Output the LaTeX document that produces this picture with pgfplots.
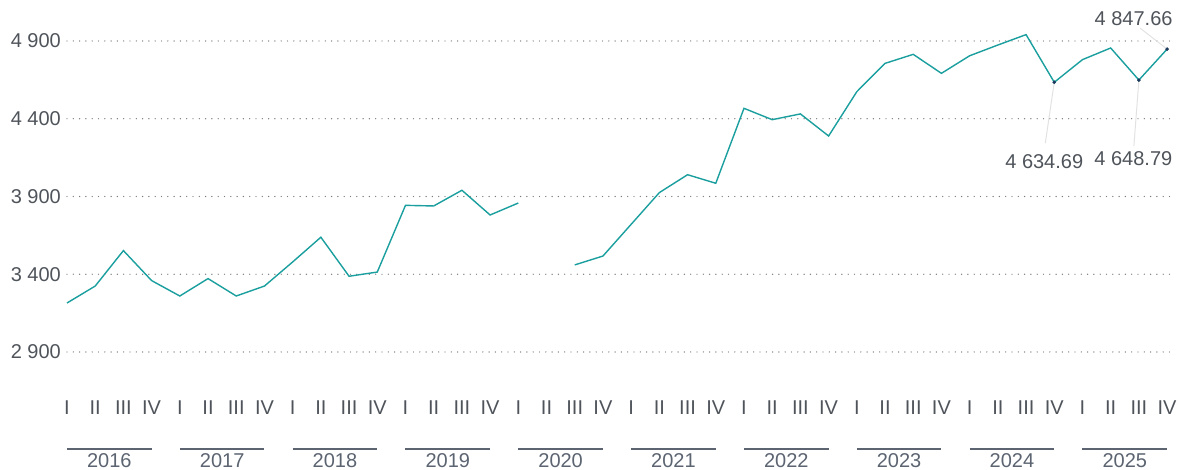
\documentclass[border=0pt]{standalone}
\usepackage{pgfplots}
\pgfplotsset{compat=1.18}
\usepackage{fontspec}
\setmainfont{Liberation Sans}
\definecolor{teal1}{HTML}{1A9E9E}
\definecolor{navy1}{HTML}{1B3A5C}
\definecolor{lab}{HTML}{4F545B}
\definecolor{yr}{HTML}{5B6470}
\definecolor{lead}{HTML}{E2E2E2}
\definecolor{gridc}{HTML}{7A7A7A}
\pgfplotstableread{
x y
0 3215
1 3324
2 3552
3 3359
4 3260
5 3372
6 3260
7 3324
8 3479
9 3638
10 3387
11 3414
12 3843
13 3839
14 3940
15 3781
16 3858
17 nan
18 3460
19 3517
20 3721
21 3925
22 4040
23 3985
24 4467
25 4394
26 4431
27 4289
28 4574
29 4756
30 4814
31 4692
32 4805
33 4874
34 4941
35 4634.69
36 4780
37 4855
38 4648.79
39 4847.66
}\series
\begin{document}
\begin{tikzpicture}
\useasboundingbox (0,0) rectangle (1179pt,470pt);
\begin{axis}[
  scale only axis, width=1108pt, height=370pt,
  at={(67pt,95pt)}, anchor=south west,
  xmin=0, xmax=39.28, ymin=2752, ymax=5131.5,
  clip=false,
  axis line style={draw=none}, major tick length=0pt,
  ytick={2900,3400,3900,4400,4900},
  yticklabels={2 900,3 400,3 900,4 400,4 900},
  ymajorgrids,
  grid style={gridc, line width=1.4pt, line cap=round, dash pattern=on 0pt off 6.3pt},
  xtick={0,...,39},
  xticklabels={I,II,III,IV,I,II,III,IV,I,II,III,IV,I,II,III,IV,I,II,III,IV,I,II,III,IV,I,II,III,IV,I,II,III,IV,I,II,III,IV,I,II,III,IV},
  ticklabel style={font=\fontsize{20}{23}\selectfont, text=lab},
  yticklabel style={anchor=east, inner sep=0pt, xshift=-6pt},
  xticklabel style={anchor=base, inner sep=0pt, yshift=-40pt},
  unbounded coords=jump,
]
\addplot[teal1, line width=1.4pt, mark=none] table[x=x,y=y] {\series};
% leader lines
\draw[lead, line width=1pt] (axis cs:39,4847.66) -- ++(-27pt,21pt);
\draw[lead, line width=1pt] (axis cs:35,4634.69) -- ++(-9pt,-61pt);
\draw[lead, line width=1pt] (axis cs:38,4648.79) -- ++(-5pt,-66pt);
\addplot[only marks, mark=*, mark size=1.6pt, navy1] coordinates {(35,4634.69) (38,4648.79) (39,4847.66)};
\node[font=\fontsize{20}{23}\selectfont, text=lab, inner sep=0pt] at ([shift={(-33.5pt,31pt)}]axis cs:39,4847.66) {4 847.66};
\node[font=\fontsize{20}{23}\selectfont, text=lab, inner sep=0pt] at ([shift={(-10pt,-79pt)}]axis cs:35,4634.69) {4 634.69};
\node[font=\fontsize{20}{23}\selectfont, text=lab, inner sep=0pt] at ([shift={(-5.5pt,-78.5pt)}]axis cs:38,4648.79) {4 648.79};
% year groups
\foreach \s/\yy in {0/2016,4/2017,8/2018,12/2019,16/2020,20/2021,24/2022,28/2023,32/2024,36/2025}{
  \edef\tmp{\noexpand\draw[yr, line width=1.3pt] ([yshift=-74pt]axis cs:\s,2752) -- ([yshift=-74pt]axis cs:\s+3,2752);
  \noexpand\node[font=\noexpand\fontsize{20}{23}\noexpand\selectfont, text=yr, inner sep=0pt, anchor=base] at ([yshift=-93pt]axis cs:\s+1.5,2752) {\yy};}
  \tmp
}
\end{axis}
\end{tikzpicture}
\end{document}
